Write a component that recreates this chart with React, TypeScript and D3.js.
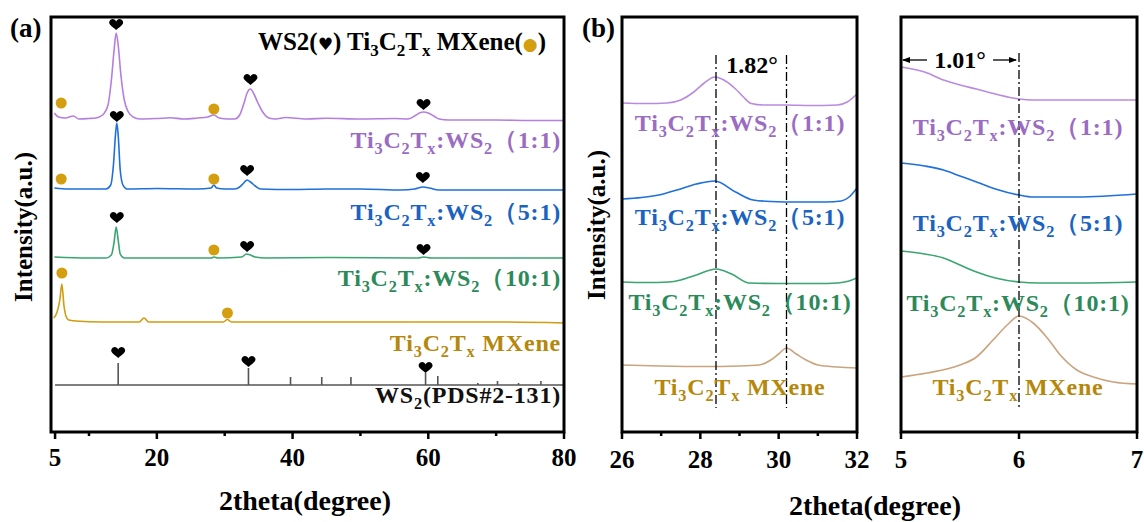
import React from "react";
import * as d3 from "d3";

type Pt = [number, number];

// ---- panel (a): wide scan, [2theta, intensity above own baseline] ----
const purpleA: Pt[] = [
  [4.9, 6], [5.5, 2], [6.5, 1], [7.7, 3], [8.5, 0], [10, 0.5], [11, 1], [12, 4], [12.8, 14],
  [13.3, 39], [13.7, 69], [14.0, 86], [14.3, 74], [14.7, 44], [15.2, 19], [15.8, 7], [16.5, 2],
  [17.5, 0], [20, 0.5], [22, 1.2], [24, 0], [26, 1], [27.5, 2], [28.4, 4], [29.2, 1], [30.5, 0],
  [31.5, 0], [32.2, 4], [32.8, 15], [33.3, 26], [33.8, 30], [34.3, 25], [34.9, 16], [35.6, 7],
  [36.5, 1], [37.5, 0], [39, 1.5], [42, 0], [45, 0.8], [50, 0], [55, 0.5], [57, 0], [58, 3],
  [58.7, 6], [59.3, 7], [60.0, 6], [60.8, 3], [61.6, 0], [63, -1], [70, -1], [75, -1.5], [80, -1.5],
];
const blueA: Pt[] = [
  [4.9, 1], [7, 0], [10, 0], [12.5, 0], [13.2, 4], [13.6, 24], [13.9, 54], [14.1, 66], [14.3, 54],
  [14.6, 19], [15.0, 4], [15.6, 0], [20, 0.5], [26, 0], [28.0, 1], [28.4, 4], [28.8, 1], [30, 0],
  [31.5, 0], [32.2, 2], [32.8, 6], [33.3, 9], [33.8, 7], [34.5, 3], [35.3, 0], [40, -0.5], [45, 0],
  [50, 0], [56, -1], [58, 0], [59.2, 2], [60.2, 1], [61.5, -1], [70, -1], [80, -1],
];
const greenA: Pt[] = [
  [4.9, 1], [10, 0], [12.5, 0], [13.3, 3], [13.7, 16], [14.0, 31], [14.3, 18], [14.6, 4], [15.2, 0],
  [20, 0], [28.0, 0], [28.4, 1], [29, 0], [32.5, 1], [33.2, 4], [33.6, 3.5], [34.5, 1], [36, 0],
  [45, 0.5], [58.5, 0], [59.3, 1], [60.5, 0], [80, 0],
];
const goldA: Pt[] = [
  [4.8, 4], [5.3, 10], [5.7, 22], [6.0, 38], [6.3, 17], [6.6, 6], [7.0, 2], [8, 1], [12, 0],
  [17.4, 0], [18.1, 4], [18.8, 0], [25, 0], [29.8, 0], [30.4, 2.5], [31, 0], [40, 0], [55, 0],
  [70, 0], [80, -1],
];
const ws2Sticks: Pt[] = [
  [14.3, 22], [33.5, 17], [39.7, 8], [44.3, 8], [48.6, 8], [59.6, 12], [61.4, 9],
  [67.3, 2], [70.2, 4], [73.3, 2], [76.6, 4],
];
const offsetsA = [313, 243, 174, 110, 47];
const heartsA: Pt[] = [
  [14.0, 407], [33.8, 352], [59.3, 327], [14.1, 315], [33.3, 261], [59.2, 254],
  [14.1, 214], [33.3, 185], [59.3, 182], [14.3, 79], [33.5, 70], [59.6, 64],
];
const dotsA: Pt[] = [
  [5.9, 329], [28.4, 323], [5.9, 253], [28.4, 253], [28.4, 182], [6.0, 159], [30.4, 119],
];

// ---- panel (b): 26-32 deg ----
const purpleB: Pt[] = [
  [26, 329], [26.6, 328.5], [27.15, 329], [27.5, 332], [27.8, 339], [28.1, 349], [28.37, 355],
  [28.6, 352], [28.9, 343], [29.1, 335], [29.3, 328.5], [29.6, 327], [30.2, 327], [30.8, 326.5],
  [31.5, 327], [31.75, 330], [32, 338],
];
const blueB: Pt[] = [
  [26, 233], [26.5, 234.5], [27, 237.5], [27.4, 242], [27.9, 248], [28.37, 251], [28.9, 240],
  [29.35, 232], [29.8, 230.5], [30.5, 230], [31.2, 230], [31.6, 231], [31.8, 235], [32, 244],
];
const greenB: Pt[] = [
  [26, 150], [26.6, 149.5], [27.2, 150], [27.5, 152], [27.9, 157], [28.4, 163], [28.8, 158],
  [29.25, 149], [30, 148.5], [31, 148.5], [31.5, 149], [31.8, 151], [32, 154],
];
const goldB: Pt[] = [
  [26, 67], [27, 66], [28, 65.5], [29, 66], [29.5, 67], [29.8, 72], [30.0, 78], [30.2, 84],
  [30.45, 78], [30.7, 72], [31.0, 67], [31.5, 65], [32, 64],
];
const shiftB = [28.4, 30.2];

// ---- panel (c): 5-7 deg ----
const purpleC: Pt[] = [
  [5.0, 365], [5.2, 360], [5.36, 352], [5.5, 347], [5.64, 343], [5.8, 338], [6.0, 333],
  [6.12, 332], [6.5, 332], [7.0, 332],
];
const blueC: Pt[] = [
  [5.0, 269], [5.2, 266], [5.36, 262], [5.5, 256], [5.64, 250], [5.8, 243], [6.0, 237],
  [6.12, 235], [6.5, 235], [7.0, 238],
];
const greenC: Pt[] = [
  [5.0, 181], [5.2, 178], [5.36, 174], [5.5, 167], [5.64, 160], [5.8, 154], [6.0, 150],
  [6.17, 149], [6.5, 149], [7.0, 150],
];
const goldC: Pt[] = [
  [5.0, 55], [5.22, 59], [5.5, 67], [5.64, 75], [5.78, 92], [5.9, 107], [6.0, 116], [6.12, 109],
  [6.24, 94], [6.35, 77], [6.49, 62], [6.63, 55], [6.8, 50], [7.0, 48],
];
const shiftC = [6.0];

const ticksA = [5, 20, 40, 60, 80];
const minorA = [10, 30, 50, 70];
const ticksB = [26, 28, 30, 32];
const minorB = [27, 29, 31];
const ticksC = [5, 6, 7];

const seriesNames = [
  "Ti3C2Tx:WS2（1:1)",
  "Ti3C2Tx:WS2（5:1)",
  "Ti3C2Tx:WS2（10:1)",
  "Ti3C2Tx MXene",
];
const lineColors = ["#b47fdf", "#1f6fdc", "#3aa571", "#d19c12"];
const textColors = ["#9a6cc2", "#1b63c1", "#2c8a5a", "#b5880c"];
const zoomColors = ["#b98be0", "#1f6fdc", "#3aa571", "#c9a47e"];

const serif = '"Liberation Serif", "Times New Roman", serif';

// split a formula into normal / subscript runs
function runs(s: string) {
  const out: { t: string; sub: boolean }[] = [];
  for (let i = 0; i < s.length; i++) {
    const c = s[i];
    const p = s[i - 1] || "";
    const sub = (/\d/.test(c) && /[A-Za-z]/.test(p)) || (c === "x" && p === "T");
    const last = out[out.length - 1];
    if (last && last.sub === sub) last.t += c;
    else out.push({ t: c, sub });
  }
  return out;
}

function Formula({ s, x, y, anchor, fill, size }: any) {
  const r = runs(s);
  return (
    <text x={x} y={y} textAnchor={anchor} fill={fill} fontFamily={serif} fontWeight="bold"
      fontSize={size} letterSpacing={0.8}>
      {r.map((d, i) => {
        const prevSub = i > 0 && r[i - 1].sub;
        const dy = d.sub ? 6 : prevSub ? -6 : 0;
        return (
          <tspan key={i} dy={dy} fontSize={d.sub ? size * 0.68 : size}>{d.t}</tspan>
        );
      })}
    </text>
  );
}

const heartPath =
  "M0,5 C-2,3 -7,0 -7,-2.5 C-7,-5 -4.5,-6 -3.5,-6 C-2,-6 -0.5,-5 0,-3.5 C0.5,-5 2,-6 3.5,-6 C4.5,-6 7,-5 7,-2.5 C7,0 2,3 0,5 Z";

export default function App() {
  const top = 17, bottom = 432;
  const xA = d3.scaleLinear().domain([4.4, 80]).range([51, 564]);
  const xB = d3.scaleLinear().domain([26, 32]).range([622, 857]);
  const xC = d3.scaleLinear().domain([5, 7]).range([901, 1137]);
  const y = d3.scaleLinear().domain([0, 415]).range([bottom, top]);

  const line = (x: any, data: Pt[], off = 0) =>
    d3.line<Pt>().x((d) => x(d[0])).y((d) => y(d[1] + off)).curve(d3.curveMonotoneX)(data) || "";

  const frame = (x: any) => {
    const [x0, x1] = x.range();
    return <rect x={x0} y={top} width={x1 - x0} height={bottom - top} fill="none" stroke="#000" strokeWidth={3} />;
  };

  const axis = (x: any, major: number[], minor: number[], ly: number) => (
    <g>
      {major.map((t) => (
        <g key={"M" + t}>
          <line x1={x(t)} x2={x(t)} y1={bottom} y2={bottom + 7} stroke="#000" strokeWidth={2.5} />
          <text x={x(t)} y={ly} textAnchor="middle" fontFamily={serif} fontWeight="bold" fontSize={25}>{t}</text>
        </g>
      ))}
      {minor.map((t) => (
        <line key={"m" + t} x1={x(t)} x2={x(t)} y1={bottom} y2={bottom + 4} stroke="#000" strokeWidth={2.5} />
      ))}
    </g>
  );

  const linesA = [purpleA, blueA, greenA, goldA];
  const linesB = [purpleB, blueB, greenB, goldB];
  const linesC = [purpleC, blueC, greenC, goldC];
  const labelYA = [148, 220, 286, 351];
  const labelYB = [131, 225, 310, 395];
  const labelYC = [135, 231, 311, 395];

  return (
    <svg width={1144} height={522} style={{ position: "absolute", left: 0, top: 0, background: "#fff" }}>
      <defs>
        <clipPath id="cb"><rect x={622} y={top} width={235} height={bottom - top} /></clipPath>
        <clipPath id="cc"><rect x={901} y={top} width={236} height={bottom - top} /></clipPath>
      </defs>

      {/* ---------- panel (a) ---------- */}
      <text x={10} y={37} fontFamily={serif} fontWeight="bold" fontSize={27}>(a)</text>
      {linesA.map((d, i) => (
        <path key={i} d={line(xA, d, offsetsA[i])} fill="none" stroke={lineColors[i]} strokeWidth={1.6} />
      ))}
      <line x1={xA(5)} x2={xA(80)} y1={y(offsetsA[4])} y2={y(offsetsA[4])} stroke="#555" strokeWidth={1.3} />
      {ws2Sticks.map((d, i) => (
        <line key={i} x1={xA(d[0])} x2={xA(d[0])} y1={y(offsetsA[4])} y2={y(offsetsA[4] + d[1])}
          stroke="#555" strokeWidth={1.6} />
      ))}
      {heartsA.map((d, i) => (
        <path key={i} d={heartPath} transform={`translate(${xA(d[0])},${y(d[1])})`} fill="#000" />
      ))}
      {dotsA.map((d, i) => (
        <circle key={i} cx={xA(d[0])} cy={y(d[1])} r={5.5} fill="#d39e0f" />
      ))}
      {seriesNames.map((s, i) => (
        <Formula key={i} s={s} x={561} y={labelYA[i]} anchor="end" fill={textColors[i]} size={24} />
      ))}
      <Formula s="WS2(PDS#2-131)" x={561} y={403} anchor="end" fill="#111" size={24} />
      <text x={546} y={50} textAnchor="end" fontFamily={serif} fontWeight="bold" fontSize={25} fill="#000">
        <tspan>WS2(</tspan>
        <tspan fontFamily="DejaVu Sans" fontSize={17}>♥</tspan>
        <tspan>) Ti</tspan>
        <tspan dy={6} fontSize={17}>3</tspan>
        <tspan dy={-6}>C</tspan>
        <tspan dy={6} fontSize={17}>2</tspan>
        <tspan dy={-6}>T</tspan>
        <tspan dy={6} fontSize={17}>x</tspan>
        <tspan dy={-6}> MXene(</tspan>
        <tspan fontFamily="DejaVu Sans" fontSize={17} fill="#d39e0f">●</tspan>
        <tspan>)</tspan>
      </text>
      {frame(xA)}
      {axis(xA, ticksA, minorA, 466)}
      <text x={305} y={510} textAnchor="middle" fontFamily={serif} fontWeight="bold" fontSize={28}>2theta(degree)</text>
      <text transform="translate(32,227) rotate(-90)" textAnchor="middle" fontFamily={serif} fontWeight="bold" fontSize={25}>
        Intensity(a.u.)
      </text>

      {/* ---------- panel (b) ---------- */}
      <text x={582} y={37} fontFamily={serif} fontWeight="bold" fontSize={27}>(b)</text>
      <g clipPath="url(#cb)">
        {linesB.map((d, i) => (
          <path key={i} d={line(xB, d)} fill="none" stroke={zoomColors[i]} strokeWidth={1.6} />
        ))}
      </g>
      {shiftB.map((v) => (
        <line key={v} x1={xB(v)} x2={xB(v)} y1={55} y2={408} stroke="#000" strokeWidth={1.3} strokeDasharray="9,3,2,3" />
      ))}
      <text x={752} y={73} textAnchor="middle" fontFamily={serif} fontWeight="bold" fontSize={24}>1.82°</text>
      {seriesNames.map((s, i) => (
        <Formula key={i} s={s} x={740} y={labelYB[i]} anchor="middle" fill={textColors[i]} size={24} />
      ))}
      {frame(xB)}
      {axis(xB, ticksB, minorB, 468)}
      <text transform="translate(605,225) rotate(-90)" textAnchor="middle" fontFamily={serif} fontWeight="bold" fontSize={25}>
        Intensity(a.u.)
      </text>
      <text x={875} y={515} textAnchor="middle" fontFamily={serif} fontWeight="bold" fontSize={28}>2theta(degree)</text>

      {/* ---------- panel (c) ---------- */}
      <g clipPath="url(#cc)">
        {linesC.map((d, i) => (
          <path key={i} d={line(xC, d)} fill="none" stroke={zoomColors[i]} strokeWidth={1.6} />
        ))}
      </g>
      {shiftC.map((v) => (
        <line key={v} x1={xC(v)} x2={xC(v)} y1={53} y2={407} stroke="#000" strokeWidth={1.3} strokeDasharray="9,3,2,3" />
      ))}
      <g stroke="#000" strokeWidth={1.3}>
        <line x1={xC(5) + 2} x2={xC(5) + 26} y1={60} y2={60} />
        <line x1={xC(5.78)} x2={xC(6) - 3} y1={60} y2={60} />
      </g>
      <path d={`M${xC(5) + 1},60 l8,-3 v6 z`} fill="#000" />
      <path d={`M${xC(6) - 2},60 l-8,-3 v6 z`} fill="#000" />
      <text x={960} y={68} textAnchor="middle" fontFamily={serif} fontWeight="bold" fontSize={24}>1.01°</text>
      {seriesNames.map((s, i) => (
        <Formula key={i} s={s} x={1018} y={labelYC[i]} anchor="middle" fill={textColors[i]} size={24} />
      ))}
      {frame(xC)}
      {axis(xC, ticksC, [], 468)}
    </svg>
  );
}
